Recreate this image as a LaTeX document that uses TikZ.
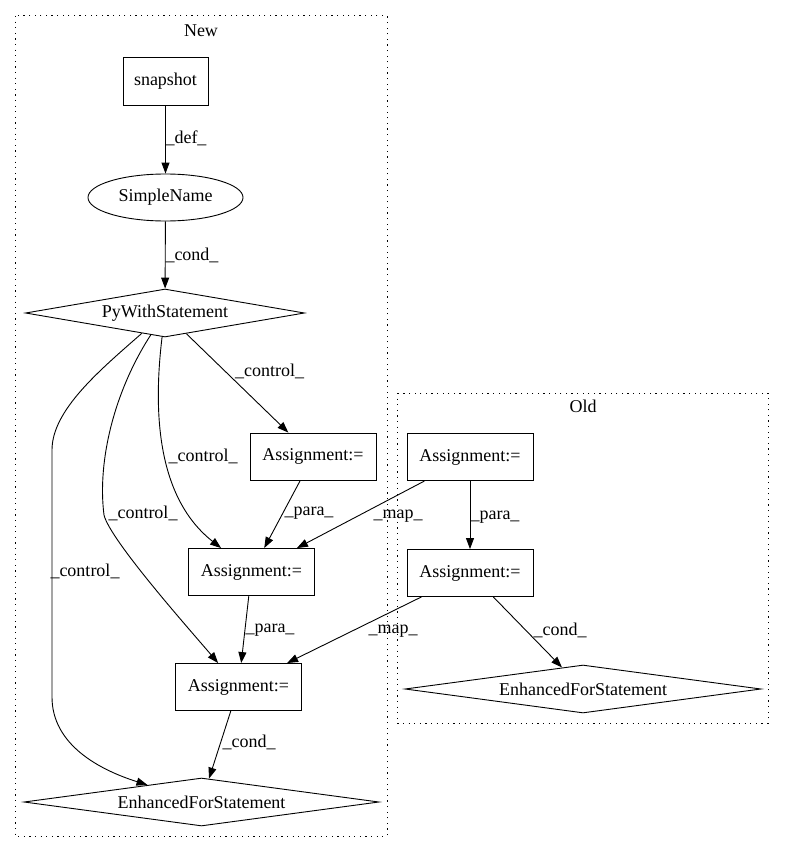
\documentclass[tikz,border=0pt]{standalone}
\usepackage{fontspec}
\setmainfont{Liberation Serif}
\usetikzlibrary{shapes.geometric,arrows.meta}
\begin{document}
\begin{tikzpicture}[x=1pt,y=-1pt,
  font=\fontsize{18}{21}\selectfont,
  every node/.style={inner sep=0pt},
  boxnode/.style={draw,line width=0.9pt,rectangle,minimum width=126pt,minimum height=47pt},
  ellnode/.style={draw,line width=0.9pt,ellipse,minimum width=155pt,minimum height=47pt},
  dianode/.style={draw,line width=0.9pt,diamond,aspect=6,minimum height=48pt},
  cluster/.style={draw,line width=1pt,dash pattern=on 1.2pt off 4.4pt},
  edge/.style={draw,line width=0.9pt,-{Triangle[length=11pt,width=8pt]}},
  lbl/.style={fill=none}]
\useasboundingbox (0,0) rectangle (784,856);
% clusters
\draw[cluster] (15,16) rectangle (387,836);
\draw[cluster] (397,393) rectangle (768,723);
\node (newlbl) at (201,31) {New};
\node (oldlbl) at (583,406) {Old};
% nodes New
\node[boxnode,minimum width=85pt,minimum height=48pt] (snap) at (165.5,81) {snapshot};
\node[ellnode] (sn) at (165.5,197.5) {SimpleName};
\node[dianode,minimum width=279pt] (py) at (165,313) {PyWithStatement};
\node[boxnode] (a1) at (313,456.5) {Assignment:=};
\node[boxnode] (a2) at (251.5,572) {Assignment:=};
\node[boxnode] (a3) at (238.5,687) {Assignment:=};
\node[dianode,minimum width=355pt] (en) at (201.5,802) {EnhancedForStatement};
% nodes Old
\node[boxnode] (oa) at (470,457) {Assignment:=};
\node[boxnode] (ob) at (470,573) {Assignment:=};
\node[dianode,minimum width=356pt] (oe) at (583,689) {EnhancedForStatement};
% edges
\draw[edge] (snap) -- (sn);
\draw[edge] (sn) -- (py);
\draw[edge] (py) -- (a1);
\draw[edge] (py) .. controls (152,420) and (160,500) .. (a2);
\draw[edge] (py) .. controls (115,390) and (97,460) .. (104,515) .. controls (110,540) and (190,630) .. (a3);
\draw[edge] (py) .. controls (100,370) and (52,410) .. (52,450) -- (52,697) .. controls (52,745) and (100,770) .. (en);
\draw[edge] (a1) -- (a2);
\draw[edge] (a2) -- (a3);
\draw[edge] (a3) -- (en);
\draw[edge] (oa) -- (a2);
\draw[edge] (ob) -- (a3);
\draw[edge] (oa) -- (ob);
\draw[edge] (ob) -- (oe);
% labels
\node[lbl] (l1) at (186,138) {\_def\_};
\node[lbl] (l2) at (192,255) {\_cond\_};
\node[lbl] (l3) at (269.5,371) {\_control\_};
\node[lbl] (l4) at (203,456) {\_control\_};
\node[lbl] (l5) at (143,513) {\_control\_};
\node[lbl] (l6) at (85,571) {\_control\_};
\node[lbl] (l7) at (309,513) {\_para\_};
\node[lbl] (l8) at (270,630) {\_para\_};
\node[lbl] (l9) at (249,742) {\_cond\_};
\node[lbl] (l10) at (398,516) {\_map\_};
\node[lbl] (l11) at (393,631) {\_map\_};
\node[lbl] (l12) at (495,517) {\_para\_};
\node[lbl] (l13) at (560,630) {\_cond\_};
\end{tikzpicture}
\end{document}
